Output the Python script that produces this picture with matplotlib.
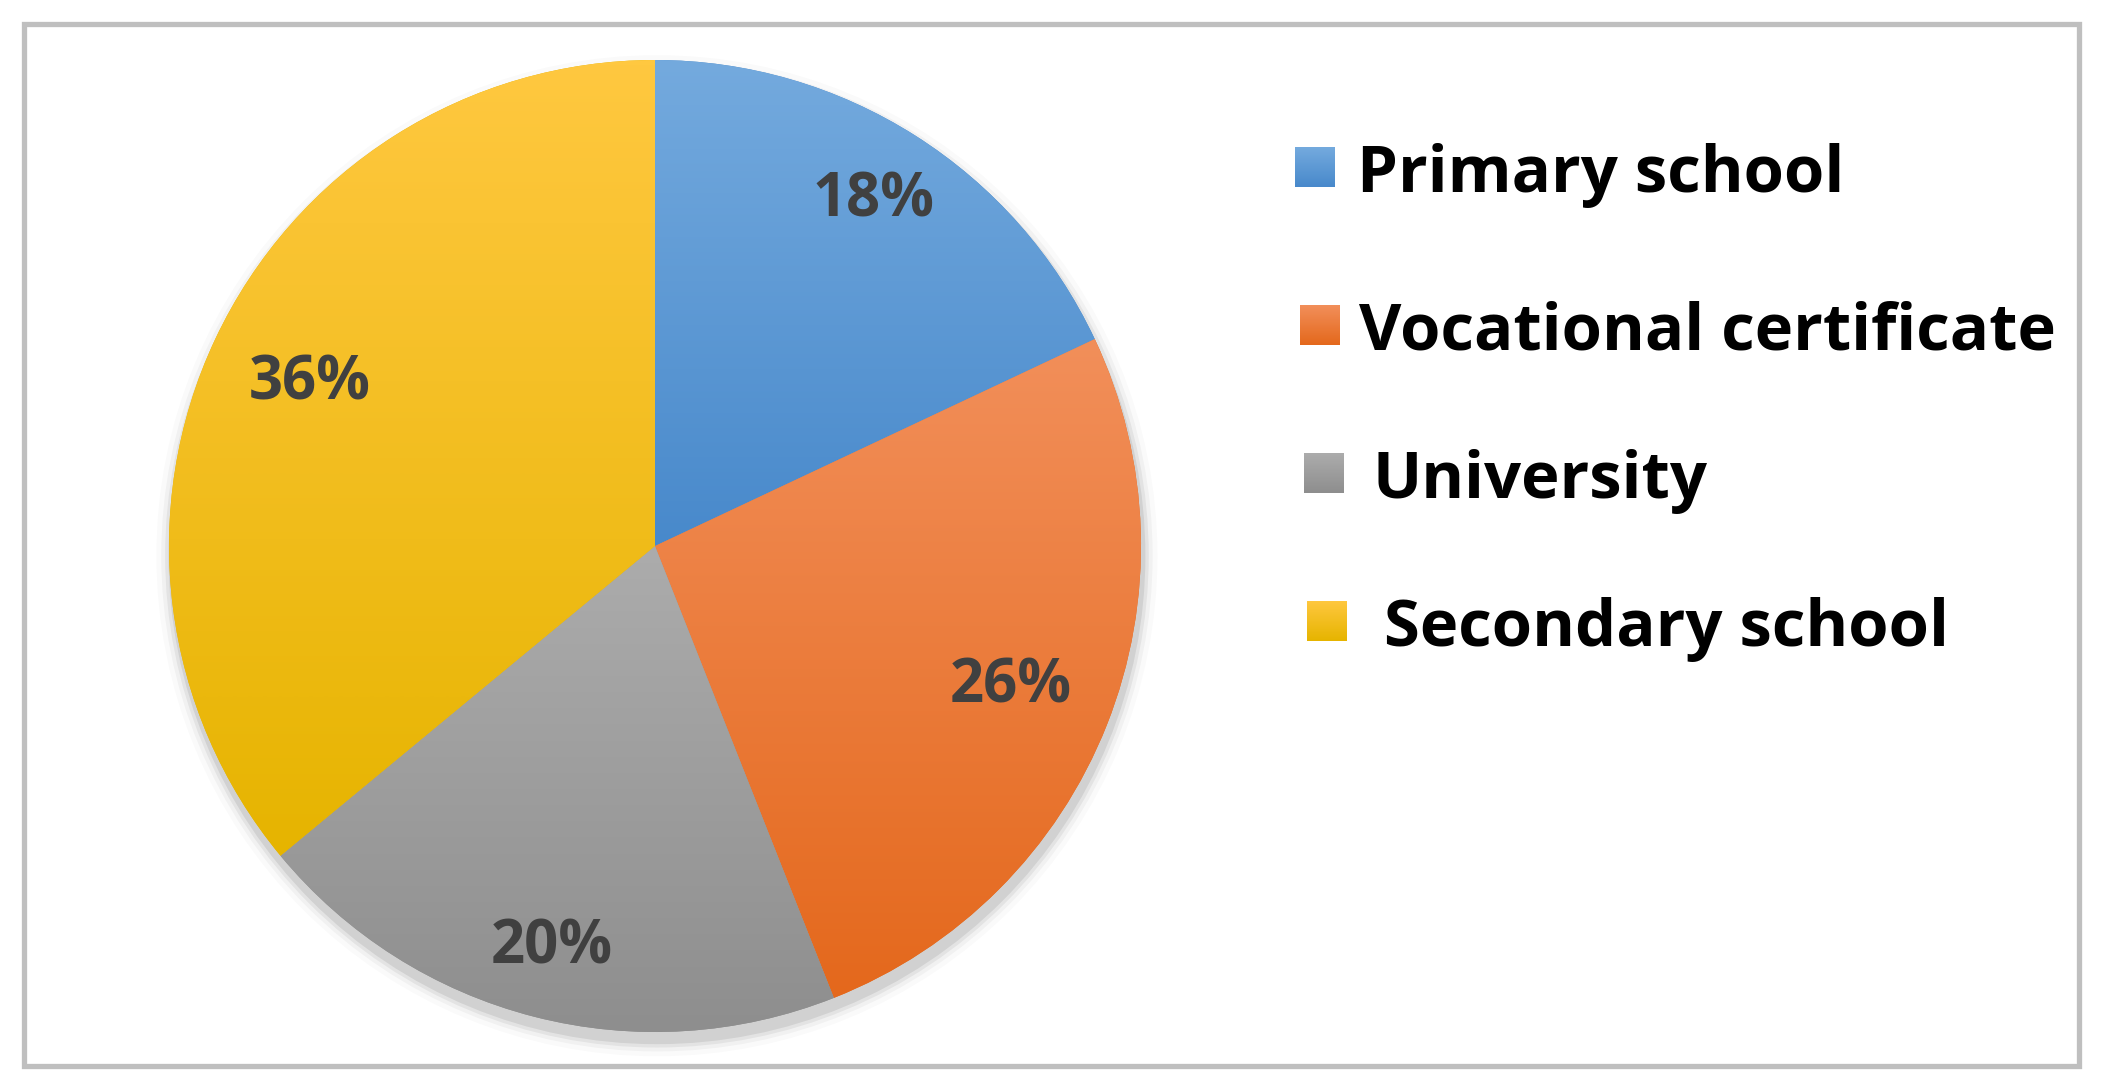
import numpy as np
import matplotlib
matplotlib.use("Agg")
import matplotlib.pyplot as plt
from matplotlib.patches import Rectangle, Circle
from matplotlib.colors import LinearSegmentedColormap

# ---- data ----
categories = ["Primary school", "Vocational certificate", "University", "Secondary school"]
shares = [18, 26, 20, 36]
pct_labels = ["18%", "26%", "20%", "36%"]

# ---- style ----
grad_top = ["#74AADE", "#F28F5A", "#ACACAC", "#FFC840"]
grad_bot = ["#4889CB", "#E4681C", "#8E8E8E", "#E6B400"]
label_dist = [0.84, 0.787, 0.855, 0.784]
FONT = "Open Sans"

W, H = 2108, 1091
fig = plt.figure(figsize=(W / 100, H / 100), dpi=100)
fig.patch.set_facecolor("white")

# outer border
fig.add_artist(Rectangle((24 / W, 1 - 1066 / H), (2079 - 24) / W, (1066 - 23.5) / H,
                         transform=fig.transFigure, fill=False,
                         edgecolor="#BFBFBF", linewidth=3.8))

# pie axes
cx, cy, R = 655, 546, 486
pad = 1.06
ax = fig.add_axes([(cx - R * pad) / W, (H - cy - R * pad) / H, 2 * R * pad / W, 2 * R * pad / H])
ax.set_xlim(-pad, pad)
ax.set_ylim(-pad, pad)
ax.set_aspect("equal")
ax.axis("off")

# soft shadow (mostly below the pie)
for rr, a in [(1.03, 0.02), (1.02, 0.035), (1.012, 0.055), (1.005, 0.08)]:
    ax.add_patch(Circle((0.004, -0.02), rr, facecolor="black", alpha=a,
                        edgecolor="none", zorder=0))

wedges, _ = ax.pie(shares, startangle=90, counterclock=False, radius=1,
                   colors=grad_bot, wedgeprops=dict(edgecolor="none"))
for w in wedges:
    w.set_zorder(1)

# vertical gradient fill per wedge
for w, ct, cb in zip(wedges, grad_top, grad_bot):
    t1, t2 = np.deg2rad(w.theta1), np.deg2rad(w.theta2)
    ts = np.linspace(t1, t2, 200)
    ys = np.concatenate([np.sin(ts), [0.0]])
    ymin, ymax = ys.min(), ys.max()
    cmap = LinearSegmentedColormap.from_list("g", [cb, ct])
    grad = np.linspace(0, 1, 256).reshape(-1, 1)
    im = ax.imshow(grad, cmap=cmap, extent=[-1, 1, ymin, ymax], origin="lower",
                   aspect="auto", zorder=2, interpolation="bilinear")
    im.set_clip_path(w)

ax.set_xlim(-pad, pad)
ax.set_ylim(-pad, pad)

# percentage labels
for w, lab, d in zip(wedges, pct_labels, label_dist):
    mid = np.deg2rad((w.theta1 + w.theta2) / 2)
    ax.text(d * np.cos(mid), d * np.sin(mid), lab, ha="center", va="center",
            fontsize=43, fontweight="bold", color="#404040", family=FONT, zorder=5)

# legend (manual, staggered as in the original)
sq_x = [1295, 1300, 1304, 1307]
txt_x = [1357, 1359, 1373, 1384]
row_y = [167, 325, 473, 621]
sq = 40
for i, (cat, ct, cb) in enumerate(zip(categories, grad_top, grad_bot)):
    x0, y0 = sq_x[i], row_y[i]
    lax = fig.add_axes([x0 / W, (H - y0 - sq / 2) / H, sq / W, sq / H])
    lax.axis("off")
    cmap = LinearSegmentedColormap.from_list("g", [cb, ct])
    lax.imshow(np.linspace(0, 1, 64).reshape(-1, 1), cmap=cmap, origin="lower",
               aspect="auto", extent=[0, 1, 0, 1])
    fig.text(txt_x[i] / W, 1 - y0 / H, cat, ha="left", va="center_baseline",
             fontsize=47, fontweight="bold", color="black", family=FONT)

fig.savefig("out.png", dpi=100, facecolor="white")
